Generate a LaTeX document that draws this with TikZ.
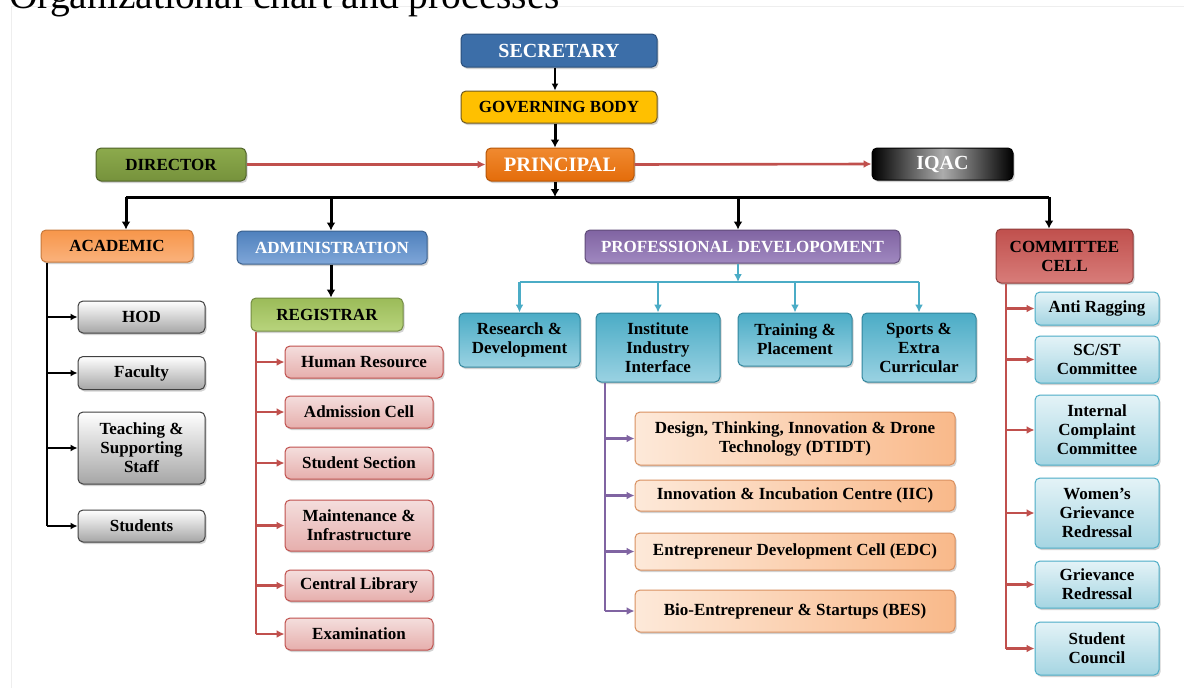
\documentclass[tikz,border=0pt]{standalone}
\usepackage{fontspec}
\setmainfont{Liberation Serif}
\usetikzlibrary{arrows.meta,shadows,calc}
\definecolor{secblue}{HTML}{3C6EA8}
\definecolor{secbord}{HTML}{2A4F7A}
\definecolor{govy}{HTML}{FFC000}
\definecolor{govbord}{HTML}{6F5A20}
\definecolor{prinor}{HTML}{E46C0A}
\definecolor{prinor2}{HTML}{F08A30}
\definecolor{dirg}{HTML}{76923C}
\definecolor{dirg2}{HTML}{8CAA4C}
\definecolor{dirbord}{HTML}{4F6228}
\definecolor{acad1}{HTML}{F7964A}
\definecolor{acad2}{HTML}{FAB27C}
\definecolor{adm1}{HTML}{4F81BD}
\definecolor{adm2}{HTML}{7FA6D8}
\definecolor{reg1}{HTML}{9BBB59}
\definecolor{reg2}{HTML}{B8D47C}
\definecolor{pro1}{HTML}{8064A2}
\definecolor{pro2}{HTML}{A088C0}
\definecolor{com1}{HTML}{C0504D}
\definecolor{com2}{HTML}{D87C79}
\definecolor{redline}{HTML}{C0504D}
\definecolor{tealline}{HTML}{4BACC6}
\definecolor{teal1}{HTML}{4BACC6}
\definecolor{teal2}{HTML}{9AD2E2}
\definecolor{tealbord}{HTML}{31859C}
\definecolor{purpline}{HTML}{8064A2}
\definecolor{pink1}{HTML}{F4DEDD}
\definecolor{pink2}{HTML}{E6AEAC}
\definecolor{or1}{HTML}{FDE9D9}
\definecolor{or2}{HTML}{F9B98A}
\definecolor{orbord}{HTML}{D99060}
\definecolor{lb1}{HTML}{E4F3F7}
\definecolor{lb2}{HTML}{A5D5E2}
\definecolor{frame}{HTML}{EEEEEE}
\begin{document}
\begin{tikzpicture}[x=1pt,y=-1pt,
  box/.style={draw, rounded corners=5pt, line width=1pt, align=center, inner sep=1pt,
    font=\bfseries\fontsize{17}{19}\selectfont,
    drop shadow={opacity=0.35, shadow xshift=1.5pt, shadow yshift=-2pt}},
  topsec/.style={box, draw=secbord, fill=secblue, text=white, font=\bfseries\fontsize{20}{22}\selectfont},
  topgov/.style={box, draw=govbord, fill=govy, text=black},
  topprin/.style={box, draw=prinor!80!black, top color=prinor2, bottom color=prinor, text=white, font=\bfseries\fontsize{20.5}{22}\selectfont},
  topdir/.style={box, draw=dirbord, top color=dirg2, bottom color=dirg, text=black},
  topiqac/.style={box, draw=black, left color=black, right color=black, middle color=gray!65, text=white, font=\bfseries\fontsize{20}{22}\selectfont},
  acadbox/.style={box, draw=acad1!80!black, top color=acad1, bottom color=acad2, text=black},
  admbox/.style={box, draw=adm1!75!black, top color=adm1, bottom color=adm2, text=white},
  regbox/.style={box, draw=reg1!75!black, top color=reg1, bottom color=reg2, text=black},
  probox/.style={box, draw=pro1!75!black, top color=pro1, bottom color=pro2, text=white},
  combox/.style={box, draw=com1!75!black, top color=com1, bottom color=com2, text=black},
  graybox/.style={box, draw=black!75, top color=white, bottom color=black!35},
  pinkbox/.style={box, draw=redline, top color=pink1, bottom color=pink2},
  tealbox/.style={box, draw=tealbord, top color=teal1, bottom color=teal2},
  orbox/.style={box, draw=orbord, left color=or1, right color=or2},
  lbbox/.style={box, draw=teal1, top color=lb1, bottom color=lb2},
  thinblk/.style={draw=black, line width=1.3pt, -{Latex[length=7pt,width=7pt]}},
  thickblk/.style={draw=black, line width=3pt, -{Latex[length=8pt,width=9pt]}},
  plainblk/.style={draw=black, line width=3pt},
  redarr/.style={draw=redline, line width=2.6pt, -{Latex[length=8pt,width=8pt]}},
  redln/.style={draw=redline, line width=2.6pt},
  tealarr/.style={draw=tealline, line width=2.6pt, -{Latex[length=8pt,width=8pt]}},
  tealln/.style={draw=tealline, line width=2.6pt},
  purparr/.style={draw=purpline, line width=2.6pt, -{Latex[length=8pt,width=8pt]}},
  purpln/.style={draw=purpline, line width=2.6pt},
  acadln/.style={draw=black, line width=1.3pt}
]
\useasboundingbox (0,0) rectangle (1184,688);
\fill[white] (0,0) rectangle (1184,688);
% faint frame
\draw[frame, line width=0.8pt] (11,688) -- (11,6) -- (1184,6);
% clipped title
\begin{scope}
\clip (0,0) rectangle (1184,688);
\node[anchor=base west, inner sep=0pt, font=\fontsize{39.5}{44}\selectfont] (title) at (9,8.5) {Organizational chart and processes};
\end{scope}

% top level
\node[topsec, minimum width=196, minimum height=33] (sec) at (559,50.5) {SECRETARY};
\node[topgov, minimum width=196, minimum height=32] (gov) at (559,107) {GOVERNING BODY};
\node[topprin, minimum width=148, minimum height=33] (prin) at (560,164.5) {PRINCIPAL};
\node[topdir, minimum width=150, minimum height=33] (dir) at (171,164.5) {DIRECTOR};
\node[topiqac, minimum width=141, minimum height=32] (iqac) at (942.5,164) {IQAC};

\coordinate (axis) at (555,0);
\draw[thinblk] (sec.south -| axis) -- (gov.north -| axis);
\draw[thickblk] (gov.south -| axis) -- (prin.north -| axis);
\draw[redarr] (dir.east) -- (prin.west);
\draw[redarr] (prin.east) -- (iqac.west);

% second level
\node[acadbox, minimum width=152, minimum height=32] (acad) at (117,246) {ACADEMIC};
\node[admbox, minimum width=190, minimum height=33] (adm) at (332,247.5) {ADMINISTRATION};
\node[probox, minimum width=315, minimum height=33] (pro) at (742.5,246.5) {PROFESSIONAL DEVELOPOMENT};
\node[combox, minimum width=137, minimum height=54] (com) at (1064.5,256) {COMMITTEE\\CELL};

\coordinate (busL) at (126,197);
\coordinate (busA) at (331,197);
\coordinate (busP) at (738,197);
\coordinate (busR) at (1049,197);
\coordinate (busM) at (555,197);
\draw[thickblk] (prin.south -| axis) -- (busM);
\draw[plainblk] (busL) -- (busR);
\draw[thickblk] (busL) -- (acad.north -| busL);
\draw[thickblk] (busA) -- (adm.north -| busA);
\draw[thickblk] (busP) -- (pro.north -| busP);
\draw[thickblk] (busR) -- (com.north -| busR);

% academic children
\node[graybox, minimum width=127, minimum height=32] (hod) at (141.5,317) {HOD};
\node[graybox, minimum width=127, minimum height=33] (fac) at (141.5,373) {Faculty};
\node[graybox, minimum width=127, minimum height=72] (tss) at (141.5,448) {Teaching \&\\Supporting\\Staff};
\node[graybox, minimum width=127, minimum height=32] (stu) at (141.5,526) {Students};
\coordinate (acx) at (47,0);
\draw[acadln] (acad.south -| acx) -- (stu.west -| acx);
\foreach \n in {hod,fac,tss,stu} \draw[thinblk] (\n.west -| acx) -- (\n.west);

% administration
\node[regbox, minimum width=152, minimum height=33] (reg) at (327,314.5) {REGISTRAR};
\draw[thickblk] (adm.south -| busA) -- (reg.north -| busA);
\node[pinkbox, minimum width=158, minimum height=32] (hr) at (364,362) {Human Resource};
\node[pinkbox, minimum width=148, minimum height=32] (adc) at (359,412) {Admission Cell};
\node[pinkbox, minimum width=148, minimum height=32] (sts) at (359,463) {Student Section};
\node[pinkbox, minimum width=148, minimum height=51] (mai) at (359,525.5) {Maintenance \&\\Infrastructure};
\node[pinkbox, minimum width=148, minimum height=31] (lib) at (359,585.5) {Central Library};
\node[pinkbox, minimum width=148, minimum height=32] (exa) at (359,634) {Examination};
\coordinate (rgx) at (256,0);
\draw[redln] (reg.south -| rgx) -- (exa.west -| rgx);
\foreach \n in {hr,adc,sts,mai,lib,exa} \draw[redarr] (\n.west -| rgx) -- (\n.west);

% professional development
\node[tealbox, minimum width=121, minimum height=54] (rnd) at (519.5,340) {Research \&\\Development};
\node[tealbox, minimum width=124, minimum height=69] (iii) at (658,347.5) {Institute\\Industry\\Interface};
\node[tealbox, minimum width=114, minimum height=53] (tnp) at (795,339.5) {Training \&\\Placement};
\node[tealbox, minimum width=114, minimum height=69] (spo) at (919,347.5) {Sports \&\\Extra\\Curricular};
\coordinate (pbus) at (738,282);
\draw[tealarr] (pro.south -| pbus) -- (pbus);
\draw[tealln] (pbus -| rnd) -- (pbus -| spo);
\foreach \n in {rnd,iii,tnp,spo} \draw[tealarr] (pbus -| \n) -- (\n.north);

\node[orbox, minimum width=320, minimum height=53] (dti) at (795,438.5) {Design, Thinking, Innovation \& Drone\\Technology (DTIDT)};
\node[orbox, minimum width=320, minimum height=31] (iic) at (795,495.5) {Innovation \& Incubation Centre (IIC)};
\node[orbox, minimum width=320, minimum height=37] (edc) at (795,551.5) {Entrepreneur Development Cell (EDC)};
\node[orbox, minimum width=320, minimum height=42] (bes) at (795,611) {Bio-Entrepreneur \& Startups (BES)};
\coordinate (px) at (605,0);
\draw[purpln] (iii.south -| px) -- (bes.west -| px);
\foreach \n in {dti,iic,edc,bes} \draw[purparr] (\n.west -| px) -- (\n.west);

% committee
\node[lbbox, minimum width=124, minimum height=33] (ant) at (1097,308.5) {Anti Ragging};
\node[lbbox, minimum width=124, minimum height=47] (scs) at (1097,359.5) {SC/ST\\Committee};
\node[lbbox, minimum width=124, minimum height=70] (icc) at (1097,430) {Internal\\Complaint\\Committee};
\node[lbbox, minimum width=124, minimum height=70] (wgr) at (1097,513) {Women’s\\Grievance\\Redressal};
\node[lbbox, minimum width=124, minimum height=47] (gre) at (1097,584.5) {Grievance\\Redressal};
\node[lbbox, minimum width=124, minimum height=53] (scl) at (1097,648.5) {Student\\Council};
\coordinate (cx) at (1006,0);
\draw[redln] (com.south -| cx) -- (scl.west -| cx);
\foreach \n in {ant,scs,icc,wgr,gre,scl} \draw[redarr] (\n.west -| cx) -- (\n.west);
\end{tikzpicture}
\end{document}
